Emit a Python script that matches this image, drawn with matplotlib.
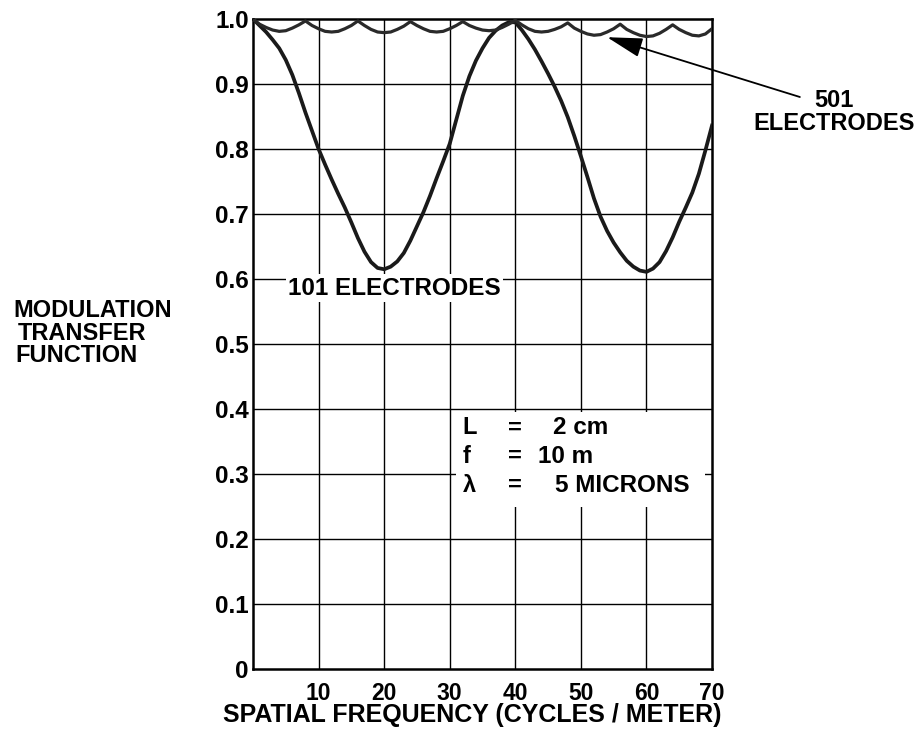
import numpy as np
import matplotlib
matplotlib.use("Agg")
import matplotlib.pyplot as plt
from matplotlib.patches import Rectangle

plt.rcParams['font.family'] = ['Liberation Sans', 'DejaVu Sans']
plt.rcParams['font.weight'] = 'bold'

# spatial frequency samples, cycles / meter
freq = list(range(0, 71))

# 101 electrodes (one value per cycle/m)
mtf101 = [1.000, 0.990, 0.980, 0.968, 0.955, 0.937, 0.914, 0.886, 0.856, 0.828,
          0.800, 0.776, 0.753, 0.731, 0.710, 0.687, 0.663, 0.642, 0.626, 0.617,
          0.615, 0.619, 0.627, 0.640, 0.659, 0.681, 0.703, 0.728, 0.755, 0.781,
          0.808, 0.845, 0.882, 0.912, 0.936, 0.955, 0.971, 0.982, 0.990, 0.995,
          0.995, 0.983, 0.969, 0.953, 0.935, 0.916, 0.896, 0.874, 0.849, 0.820,
          0.789, 0.757, 0.724, 0.696, 0.674, 0.656, 0.641, 0.628, 0.619, 0.613,
          0.611, 0.616, 0.626, 0.643, 0.664, 0.688, 0.710, 0.733, 0.762, 0.798,
          0.836]

# 501 electrodes (small ripple just under 1.0)
mtf501 = [1.000, 0.992, 0.987, 0.983, 0.981, 0.982, 0.986, 0.991, 0.997, 0.990,
          0.985, 0.981, 0.980, 0.981, 0.985, 0.990, 0.997, 0.990, 0.984, 0.980,
          0.979, 0.980, 0.984, 0.989, 0.996, 0.990, 0.985, 0.981, 0.980, 0.981,
          0.985, 0.990, 0.996, 0.990, 0.986, 0.983, 0.982, 0.983, 0.987, 0.992,
          0.998, 0.991, 0.985, 0.981, 0.980, 0.981, 0.984, 0.988, 0.994, 0.986,
          0.981, 0.977, 0.975, 0.976, 0.980, 0.985, 0.992, 0.984, 0.979, 0.975,
          0.973, 0.974, 0.978, 0.984, 0.991, 0.984, 0.979, 0.975, 0.974, 0.977,
          0.985]

xticks = [10, 20, 30, 40, 50, 60, 70]
yticks = [0, 0.1, 0.2, 0.3, 0.4, 0.5, 0.6, 0.7, 0.8, 0.9, 1.0]
ylabels = ['0', '0.1', '0.2', '0.3', '0.4', '0.5', '0.6', '0.7', '0.8', '0.9', '1.0']

param_sym = ['L', 'f', '\u03bb']
param_val = ['2 cm', '10 m', '5 MICRONS']

fig = plt.figure(figsize=(9.22, 7.36), dpi=100)
ax = fig.add_axes([253 / 922, 67 / 736, 459 / 922, 650 / 736])

# grid
for xv in xticks[:-1]:
    ax.axvline(xv, color='black', lw=1.0, zorder=1)
for yv in yticks[1:-1]:
    ax.axhline(yv, color='black', lw=1.0, zorder=1)

ax.plot(freq, mtf101, color='#1a1a1a', lw=2.7, zorder=4, solid_joinstyle='round')
ax.plot(freq, mtf501, color='#2a2a2a', lw=2.3, zorder=4, solid_joinstyle='round')

ax.set_xlim(0, 70)
ax.set_ylim(0, 1.0)
ax.set_xticks(xticks)
ax.set_xticklabels([str(v) for v in xticks])
ax.set_yticks(yticks)
ax.set_yticklabels(ylabels)
ax.tick_params(axis='both', length=0)
ax.tick_params(axis='x', pad=9, labelsize=16.5)
ax.tick_params(axis='y', pad=3, labelsize=17.5)
for s in ax.spines.values():
    s.set_linewidth(1.8)

ax.text(5.3, 0.576, '101 ELECTRODES', fontsize=17.5, va='baseline', ha='left',
        zorder=3, bbox=dict(facecolor='white', edgecolor='none', pad=1.5))

# parameter block
ax.add_patch(Rectangle((31.0, 0.25), 38.0, 0.145, facecolor='white',
                       edgecolor='none', zorder=2))
rows_y = [0.361, 0.317, 0.272]
val_x = [45.7, 43.5, 46.1]
for sym, val, yy, vx in zip(param_sym, param_val, rows_y, val_x):
    ax.text(32.0, yy, sym, fontsize=17, va='baseline', ha='left', zorder=3)
    ax.text(38.9, yy, '=', fontsize=17, va='baseline', ha='left', zorder=3)
    ax.text(vx, yy, val, fontsize=17.5, va='baseline', ha='left', zorder=3)

# 501 electrodes label with arrow
ax.text(88.6, 0.864, '501', fontsize=17, ha='center', va='baseline', clip_on=False)
ax.text(88.6, 0.830, 'ELECTRODES', fontsize=17, ha='center', va='baseline',
        clip_on=False)
ax.annotate('', xy=(54.0, 0.972), xytext=(83.4, 0.880),
            arrowprops=dict(arrowstyle='-|>,head_length=1.1,head_width=0.3',
                            color='black', lw=1.3, shrinkA=0, shrinkB=0,
                            mutation_scale=20),
            annotation_clip=False)

fig.text(472 / 922, 1 - 722 / 736, 'SPATIAL FREQUENCY (CYCLES / METER)',
         fontsize=18, ha='center', va='baseline')
fig.text(13 / 922, 1 - 317 / 736, 'MODULATION', fontsize=17, va='baseline')
fig.text(18 / 922, 1 - 340 / 736, 'TRANSFER', fontsize=17, va='baseline')
fig.text(15 / 922, 1 - 362 / 736, 'FUNCTION', fontsize=17, va='baseline')

fig.savefig('out.png', dpi=100)
